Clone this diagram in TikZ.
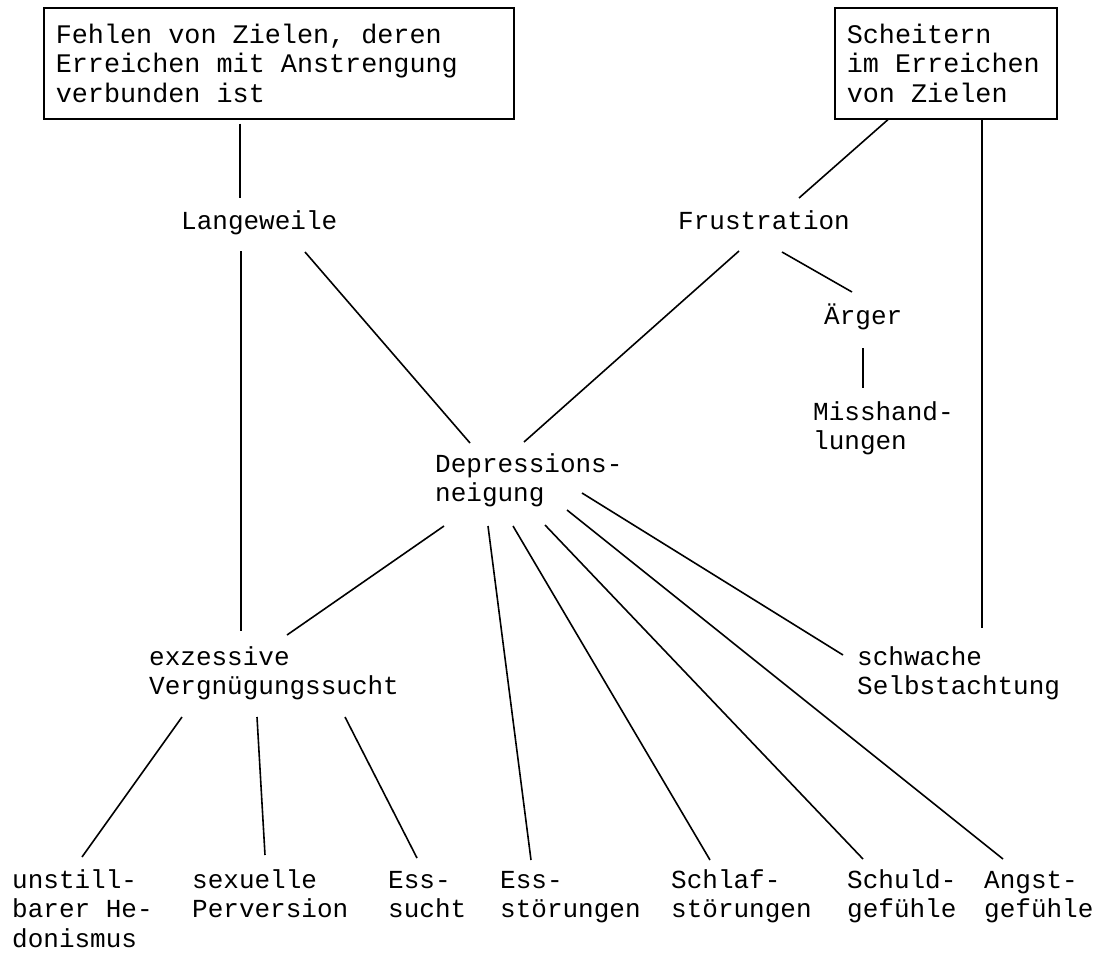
\documentclass[tikz,border=0pt]{standalone}
\usepackage{fontspec}
\usetikzlibrary{calc}
\newfontfamily\monofont{Liberation Mono}
% 等宽字体: 空格与字符同宽
\newcommand{\monosize}[1]{\monofont\fontsize{#1}{29.5}\selectfont}

\begin{document}
\begin{tikzpicture}[x=1pt, y=-1pt]
        % ================= 样式定义 =================
        \tikzset{
            % 带框的起因节点
            box_node/.style={draw=black, line width=1.6pt, anchor=north west, inner xsep=12pt, inner ysep=0pt, align=flush left, font=\monosize{26.8}},
            % 普通文字节点 (末行基线对齐)
            txt_node/.style={anchor=base west, inner sep=0pt, align=left, font=\monosize{26}},
            % 连线
            link_line/.style={line width=1.6pt, black}
        }

        % 画布大小 (与原图同比例)
        \useasboundingbox (0,0) rectangle (1100,953);

        % ================= 顶部方框 =================
        \node[box_node, text width=446pt, minimum width=470pt, minimum height=111pt] (ziele) at (43,7)
            {Fehlen von Zielen, deren\\Erreichen mit Anstrengung\\verbunden ist};
        \node[box_node, text width=198pt, minimum width=222pt, minimum height=111pt] (scheitern) at (834,7)
            {Scheitern\\im Erreichen\\von Zielen};

        % ================= 中间层节点 =================
        \node[txt_node] (lang) at (181,229) {Langeweile};
        \node[txt_node] (frust) at (678,229) {Frustration};
        \node[txt_node] (aerger) at (824,324) {Ärger};
        \node[txt_node] (miss) at (813,449.5) {Misshand-\\lungen};
        \node[txt_node] (dep) at (435,501.5) {Depressions-\\neigung};
        \node[txt_node] (exz) at (149,694.5) {exzessive\\Vergnügungssucht};
        \node[txt_node] (schw) at (857,694.5) {schwache\\Selbstachtung};

        % ================= 底层节点 =================
        \node[txt_node] (hedon) at (12,947) {unstill-\\barer He-\\donismus};
        \node[txt_node] (perv) at (192,917.5) {sexuelle\\Perversion};
        \node[txt_node] (esssucht) at (388,917.5) {Ess-\\sucht};
        \node[txt_node] (essstoer) at (500,917.5) {Ess-\\störungen};
        \node[txt_node] (schlaf) at (671,917.5) {Schlaf-\\störungen};
        \node[txt_node] (schuld) at (847,917.5) {Schuld-\\gefühle};
        \node[txt_node] (angst) at (984,917.5) {Angst-\\gefühle};

        % ================= 连线 =================
        % 1. 方框 -> Langeweile / Frustration / Selbstachtung
        \draw[link_line] ($(ziele.south west)+(197,4)$) -- ($(lang.base west)+(59,-31)$);
        \draw[link_line] ($(scheitern.south west)+(54,0)$) -- ($(frust.base west)+(121,-31)$);
        \draw[link_line] ($(scheitern.south west)+(148,0)$) -- ($(schw.base west)+(125,-66.5)$);

        % 2. Langeweile -> exzessive / Depression
        \draw[link_line] ($(lang.base west)+(60,22)$) -- ($(exz.base west)+(92,-63.5)$);
        \draw[link_line] ($(lang.base west)+(124,23)$) -- ($(dep.base west)+(35,-58.5)$);

        % 3. Frustration -> Depression / Ärger -> Misshandlungen
        \draw[link_line] ($(frust.base west)+(61,22)$) -- ($(dep.base west)+(89,-59.5)$);
        \draw[link_line] ($(frust.base west)+(104,23)$) -- ($(aerger.base west)+(28,-32)$);
        \draw[link_line] ($(aerger.base west)+(39,24)$) -- ($(miss.base west)+(50,-61.5)$);

        % 4. Depressionsneigung -> Folgen
        \draw[link_line] ($(dep.base west)+(9,24.5)$) -- ($(exz.base west)+(138,-59.5)$);
        \draw[link_line] ($(dep.base west)+(53,24.5)$) -- ($(essstoer.base west)+(31,-57.5)$);
        \draw[link_line] ($(dep.base west)+(78,24.5)$) -- ($(schlaf.base west)+(39,-57.5)$);
        \draw[link_line] ($(dep.base west)+(110,23.5)$) -- ($(schuld.base west)+(16,-58.5)$);
        \draw[link_line] ($(dep.base west)+(132,8.5)$) -- ($(angst.base west)+(19,-58.5)$);
        \draw[link_line] ($(dep.base west)+(147,-8.5)$) -- ($(schw.base west)+(-14,-39.5)$);

        % 5. exzessive Vergnügungssucht -> Folgen
        \draw[link_line] ($(exz.base west)+(33,22.5)$) -- ($(hedon.base west)+(70,-90)$);
        \draw[link_line] ($(exz.base west)+(108,22.5)$) -- ($(perv.base west)+(73,-62.5)$);
        \draw[link_line] ($(exz.base west)+(196,22.5)$) -- ($(esssucht.base west)+(29,-59.5)$);

\end{tikzpicture}
\end{document}
